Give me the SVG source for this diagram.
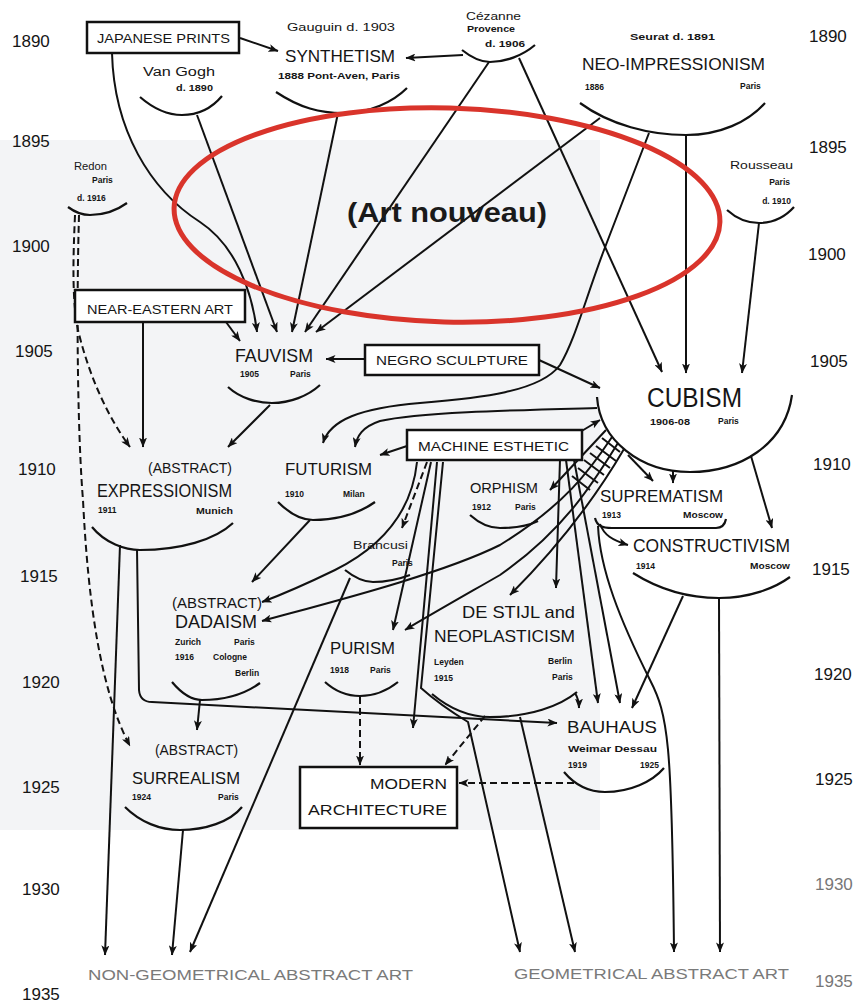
<svg xmlns="http://www.w3.org/2000/svg" width="864" height="1002" viewBox="0 0 864 1002">
<defs>
<marker id="ah" viewBox="0 0 10 8" refX="9.5" refY="4" markerWidth="10" markerHeight="8" markerUnits="userSpaceOnUse" orient="auto"><path d="M0,0 L10,4 L0,8 L2.5,4 z" fill="#111"/></marker>
<style>
.ln{fill:none;stroke:#111;stroke-width:2}
.ar{marker-end:url(#ah)}
.dash{stroke-dasharray:7 4}
.arc{fill:none;stroke:#111;stroke-width:2.2}
.box{fill:#fff;stroke:#111;stroke-width:2.5}
text{font-family:"Liberation Sans",Arial,sans-serif;fill:#151515}
.yr{font-size:17px}
.yg{font-size:17px;fill:#777}
.lb{font-size:17px}
.bx{font-size:13px}
.sm{font-size:8.5px;font-weight:bold}
.md{font-size:10px}
.fo{font-size:15px;fill:#7a7a7a}
</style>
</defs>
<rect x="0" y="0" width="864" height="1002" fill="#fff"/>
<rect x="0" y="140" width="600" height="690" fill="#f3f4f6"/>

<g id="years">
<text class="yr" x="12" y="47">1890</text>
<text class="yr" x="12" y="147">1895</text>
<text class="yr" x="12" y="252">1900</text>
<text class="yr" x="15" y="357">1905</text>
<text class="yr" x="18" y="475">1910</text>
<text class="yr" x="20" y="582">1915</text>
<text class="yr" x="22" y="688">1920</text>
<text class="yr" x="22" y="793">1925</text>
<text class="yr" x="22" y="895">1930</text>
<text class="yr" x="22" y="1000">1935</text>
<text class="yr" x="809" y="42">1890</text>
<text class="yr" x="809" y="153">1895</text>
<text class="yr" x="808" y="260">1900</text>
<text class="yr" x="810" y="367">1905</text>
<text class="yr" x="813" y="470">1910</text>
<text class="yr" x="812" y="575">1915</text>
<text class="yr" x="814" y="680">1920</text>
<text class="yr" x="815" y="785">1925</text>
<text class="yg" x="815" y="890">1930</text>
<text class="yg" x="815" y="987">1935</text>
</g>

<g id="connectors">
<path class="ln ar" d="M240,38 L278,51"/>
<path class="ln ar" d="M463,55 L406,58"/>
<path class="ln ar" d="M112,53 C114,130 150,190 200,222 C235,245 252,290 257,332"/>
<path class="ln ar" d="M197,115 L277,332"/>
<path class="ln ar" d="M338,113 L292,332"/>
<path class="ln ar" d="M489,62 L305,332"/>
<path class="ln ar" d="M600,118 L316,332"/>
<path class="ln ar" d="M519,58 L662,372"/>
<path class="ln ar" d="M686,135 L686,373"/>
<path class="ln ar" d="M759,223 L742,373"/>
<path class="ln ar" d="M649,133 L604,250 C585,300 575,340 560,365 C540,392 480,398 420,403 C360,408 330,420 323,443"/>
<path class="ln ar" d="M597,408 C520,410 420,412 380,421 C362,427 357,436 355,447"/>
<path class="ln ar" d="M226,322 L240,341"/>
<path class="ln ar" d="M143,322 L143,447"/>
<path class="ln ar" d="M270,405 L228,447"/>
<path class="ln ar" d="M365,359 L326,359"/>
<path class="ln ar" d="M539,360 L600,388"/>
<path class="ln ar dash" d="M75,215 C73,260 72,300 78,330 C90,380 110,420 130,447"/>
<path class="ln ar dash" d="M79,215 C76,320 78,440 83,500 C88,600 100,690 130,746"/>
<path class="ln ar" d="M407,446 L380,455"/>
<path class="ln ar" d="M580,432 L600,420"/>
<path class="ln ar" d="M310,520 L252,582"/>
<path class="ln ar" d="M417,462 C412,510 385,545 335,570 C300,587 278,596 262,602"/>
<path class="ln ar dash" d="M427,462 L402,528"/>
<path class="ln ar" d="M431,462 L393,630"/>
<path class="ln ar" d="M437,462 L413,728"/>
<path class="ln ar" d="M443,462 L421,688 Q440,705 468,722 L520,952"/>
<path class="ln ar" d="M560,460 L556,588"/>
<path class="ln ar" d="M566,460 L598,703"/>
<path class="ln ar" d="M574,460 L620,703"/>
<path class="ln ar" d="M606,430 L550,490"/>
<path class="ln ar" d="M612,437 C590,470 565,505 500,545 C440,575 320,605 262,621"/>
<path class="ln ar" d="M618,443 C595,480 565,530 500,575 C460,598 430,615 405,630"/>
<path class="ln ar" d="M624,449 C600,490 565,540 510,595"/>
<path class="ln ar" d="M628,455 L653,481"/>
<path class="ln" d="M596,446 L616,461 M590,453 L610,468 M584,460 L604,475 M578,468 L598,483 M572,476 L590,490 M602,438 L620,452"/>
<path class="ln ar" d="M673,471 L673,483"/>
<path class="ln ar" d="M751,456 L772,528"/>
<path class="ln ar" d="M600,524 C604,535 612,540 628,545"/>
<path class="ln ar" d="M598,526 C600,570 620,620 650,680 C668,715 672,740 674,952"/>
<path class="ln ar" d="M683,596 L632,708"/>
<path class="ln ar" d="M719,598 L720,952"/>
<path class="ln ar" d="M120,545 L105,955"/>
<path class="ln ar" d="M137,549 L139,690 Q140,702 152,702 L557,723"/>
<path class="ln ar" d="M200,700 L197,730"/>
<path class="ln ar" d="M183,830 L172,955"/>
<path class="ln ar" d="M350,578 L190,952"/>
<path class="ln ar dash" d="M360,697 L360,765"/>
<path class="ln ar dash" d="M485,716 L445,765"/>
<path class="ln ar dash" d="M574,783 L459,783"/>
<path class="ln ar" d="M575,693 C578,698 579,702 579,708"/>
<path class="ln ar" d="M520,717 L575,952"/>
</g>

<g id="japanese-prints"><rect class="box" x="87" y="22" width="152" height="31"/><text class="bx" x="97" y="43" textLength="133" lengthAdjust="spacingAndGlyphs">JAPANESE PRINTS</text></g>
<g id="synthetism"><text class="md" x="287" y="31" textLength="108" lengthAdjust="spacingAndGlyphs">Gauguin  d. 1903</text><text class="lb" x="285" y="62" textLength="110" lengthAdjust="spacingAndGlyphs">SYNTHETISM</text><text class="sm" x="278" y="79" textLength="122" lengthAdjust="spacingAndGlyphs">1888  Pont-Aven, Paris</text><path class="arc" d="M276,92 C300,108 320,113 343,113 C370,113 393,102 407,88"/></g>
<g id="van-gogh"><text style="font-size:12px" x="143" y="76" textLength="72" lengthAdjust="spacingAndGlyphs">Van Gogh</text><text class="sm" x="176" y="91" textLength="37" lengthAdjust="spacingAndGlyphs">d. 1890</text><path class="arc" d="M140,97 C155,110 168,115 182,115 C198,115 212,108 222,96"/></g>
<g id="cezanne"><text class="md" x="466" y="20" textLength="55" lengthAdjust="spacingAndGlyphs">Cézanne</text><text class="sm" x="467" y="32" textLength="48" lengthAdjust="spacingAndGlyphs">Provence</text><text class="sm" x="485" y="47" textLength="40" lengthAdjust="spacingAndGlyphs">d. 1906</text><path class="arc" d="M462,50 C472,58 480,62 490,62 C505,62 522,56 535,45"/></g>
<g id="neo-impressionism"><text class="sm" x="630" y="40" textLength="85" lengthAdjust="spacingAndGlyphs">Seurat  d. 1891</text><text class="lb" x="582" y="70" textLength="183" lengthAdjust="spacingAndGlyphs">NEO-IMPRESSIONISM</text><text class="sm" x="585" y="90">1886</text><text class="sm" x="740" y="89">Paris</text><path class="arc" d="M580,103 C610,125 650,135 686,135 C720,135 748,122 765,103"/></g>
<g id="rousseau"><text class="md" x="730" y="169" textLength="63" lengthAdjust="spacingAndGlyphs">Rousseau</text><text class="sm" x="790" y="185" text-anchor="end">Paris</text><text class="sm" x="791" y="204" text-anchor="end">d. 1910</text><path class="arc" d="M727,210 C737,219 748,223 759,223 C773,223 785,217 794,207"/></g>
<g id="redon"><text class="md" x="74" y="170" textLength="33" lengthAdjust="spacingAndGlyphs">Redon</text><text class="sm" x="92" y="183">Paris</text><text class="sm" x="77" y="201">d. 1916</text><path class="arc" d="M68,207 C76,213 83,215 90,215 C103,215 116,211 127,203"/></g>
<g id="near-eastern-art"><rect class="box" x="75" y="290" width="170" height="32"/><text class="bx" x="87" y="314" textLength="146" lengthAdjust="spacingAndGlyphs">NEAR-EASTERN ART</text></g>
<g id="fauvism"><text style="font-size:19px" x="235" y="362" textLength="78" lengthAdjust="spacingAndGlyphs">FAUVISM</text><text class="sm" x="240" y="377">1905</text><text class="sm" x="290" y="377">Paris</text><path class="arc" d="M228,387 C240,398 257,403 272,403 C290,403 308,396 320,385"/></g>
<g id="negro-sculpture"><rect class="box" x="365" y="345" width="174" height="30"/><text class="bx" x="376" y="365" textLength="152" lengthAdjust="spacingAndGlyphs">NEGRO SCULPTURE</text></g>
<g id="cubism"><text style="font-size:27px" x="647" y="407" textLength="95" lengthAdjust="spacingAndGlyphs">CUBISM</text><text class="sm" x="650" y="425" textLength="40" lengthAdjust="spacingAndGlyphs">1906-08</text><text class="sm" x="718" y="424">Paris</text><path class="arc" d="M597,397 C600,440 640,472 690,472 C740,472 785,445 792,395"/></g>
<g id="machine-esthetic"><rect class="box" x="407" y="430" width="175" height="30"/><text class="bx" x="418" y="451" textLength="151" lengthAdjust="spacingAndGlyphs">MACHINE ESTHETIC</text></g>
<g id="expressionism"><text style="font-size:14px" x="148" y="473" textLength="84" lengthAdjust="spacingAndGlyphs">(ABSTRACT)</text><text style="font-size:18px" x="97" y="497" textLength="135" lengthAdjust="spacingAndGlyphs">EXPRESSIONISM</text><text class="sm" x="98" y="513">1911</text><text class="sm" x="196" y="514" textLength="37" lengthAdjust="spacingAndGlyphs">Munich</text><path class="arc" d="M92,527 C105,543 125,550 140,550 C180,550 215,540 233,523"/></g>
<g id="futurism"><text class="lb" x="285" y="475" textLength="87" lengthAdjust="spacingAndGlyphs">FUTURISM</text><text class="sm" x="285" y="497">1910</text><text class="sm" x="343" y="497">Milan</text><path class="arc" d="M278,502 C290,514 302,520 313,520 C335,520 358,514 375,502"/></g>
<g id="orphism"><text style="font-size:15px" x="470" y="493" textLength="68" lengthAdjust="spacingAndGlyphs">ORPHISM</text><text class="sm" x="472" y="510">1912</text><text class="sm" x="515" y="510">Paris</text><path class="arc" d="M470,515 C480,524 490,528 500,528 C515,528 528,526 538,521"/></g>
<g id="suprematism"><text class="lb" x="600" y="502" textLength="123" lengthAdjust="spacingAndGlyphs">SUPREMATISM</text><text class="sm" x="602" y="518">1913</text><text class="sm" x="683" y="518" textLength="40" lengthAdjust="spacingAndGlyphs">Moscow</text><path class="arc" d="M595,518 C597,526 602,528 612,528 L716,528 C722,528 725,524 726,519"/></g>
<g id="constructivism"><text style="font-size:18px" x="633" y="552" textLength="157" lengthAdjust="spacingAndGlyphs">CONSTRUCTIVISM</text><text class="sm" x="636" y="569">1914</text><text class="sm" x="750" y="569" textLength="40" lengthAdjust="spacingAndGlyphs">Moscow</text><path class="arc" d="M633,573 C660,590 690,598 719,598 C750,598 775,588 790,577"/></g>
<g id="brancusi"><text style="font-size:11px" x="353" y="549" textLength="55" lengthAdjust="spacingAndGlyphs">Brancusi</text><text class="sm" x="392" y="566">Paris</text><path class="arc" d="M345,570 C355,578 365,582 373,582 C390,582 402,578 410,575"/></g>
<g id="dadaism"><text style="font-size:14px" x="172" y="608" textLength="90" lengthAdjust="spacingAndGlyphs">(ABSTRACT)</text><text style="font-size:18px" x="175" y="628" textLength="82" lengthAdjust="spacingAndGlyphs">DADAISM</text><text class="sm" x="175" y="645">Zurich</text><text class="sm" x="234" y="645">Paris</text><text class="sm" x="175" y="660">1916</text><text class="sm" x="213" y="660">Cologne</text><text class="sm" x="235" y="676">Berlin</text><path class="arc" d="M172,682 C182,694 192,700 202,700 C225,700 245,694 260,683"/></g>
<g id="purism"><text class="lb" x="330" y="654" textLength="65" lengthAdjust="spacingAndGlyphs">PURISM</text><text class="sm" x="330" y="673">1918</text><text class="sm" x="370" y="673">Paris</text><path class="arc" d="M325,682 C336,692 348,696 360,696 C375,696 388,690 398,682"/></g>
<g id="de-stijl"><text class="lb" x="462" y="618" textLength="113" lengthAdjust="spacingAndGlyphs">DE STIJL and</text><text class="lb" x="434" y="642" textLength="141" lengthAdjust="spacingAndGlyphs">NEOPLASTICISM</text><text class="sm" x="434" y="665">Leyden</text><text class="sm" x="434" y="681">1915</text><text class="sm" x="548" y="664">Berlin</text><text class="sm" x="552" y="680">Paris</text><path class="arc" d="M432,694 C450,709 470,717 490,717 C530,717 560,706 577,692"/></g>
<g id="bauhaus"><text class="lb" x="567" y="733" textLength="90" lengthAdjust="spacingAndGlyphs">BAUHAUS</text><text class="sm" x="568" y="752" textLength="89" lengthAdjust="spacingAndGlyphs">Weimar  Dessau</text><text class="sm" x="568" y="768">1919</text><text class="sm" x="640" y="768">1925</text><path class="arc" d="M564,772 C575,785 590,792 605,792 C630,792 652,782 664,768"/></g>
<g id="surrealism"><text style="font-size:14px" x="155" y="755" textLength="83" lengthAdjust="spacingAndGlyphs">(ABSTRACT)</text><text class="lb" x="132" y="784" textLength="108" lengthAdjust="spacingAndGlyphs">SURREALISM</text><text class="sm" x="132" y="800">1924</text><text class="sm" x="218" y="800">Paris</text><path class="arc" d="M125,807 C140,822 160,830 180,830 C205,830 230,822 242,807"/></g>
<g id="modern-architecture"><rect class="box" x="300" y="767" width="157" height="61"/><text style="font-size:15px" x="370" y="789" textLength="77" lengthAdjust="spacingAndGlyphs">MODERN</text><text style="font-size:15px" x="308" y="815" textLength="139" lengthAdjust="spacingAndGlyphs">ARCHITECTURE</text></g>
<g id="non-geometrical-abstract-art"><text class="fo" x="88" y="980" textLength="325" lengthAdjust="spacingAndGlyphs">NON-GEOMETRICAL ABSTRACT ART</text></g>
<g id="geometrical-abstract-art"><text class="fo" x="514" y="979" textLength="275" lengthAdjust="spacingAndGlyphs">GEOMETRICAL ABSTRACT ART</text></g>

<g id="art-nouveau">
<ellipse cx="447" cy="215" rx="273" ry="107" fill="none" stroke="#d9342b" stroke-width="5" transform="rotate(1.5 447 215)"/>
<text x="447" y="222" text-anchor="middle" style="font-size:28px;font-weight:bold;fill:#1a1a1a" textLength="200" lengthAdjust="spacingAndGlyphs">(Art nouveau)</text>
</g>
</svg>
